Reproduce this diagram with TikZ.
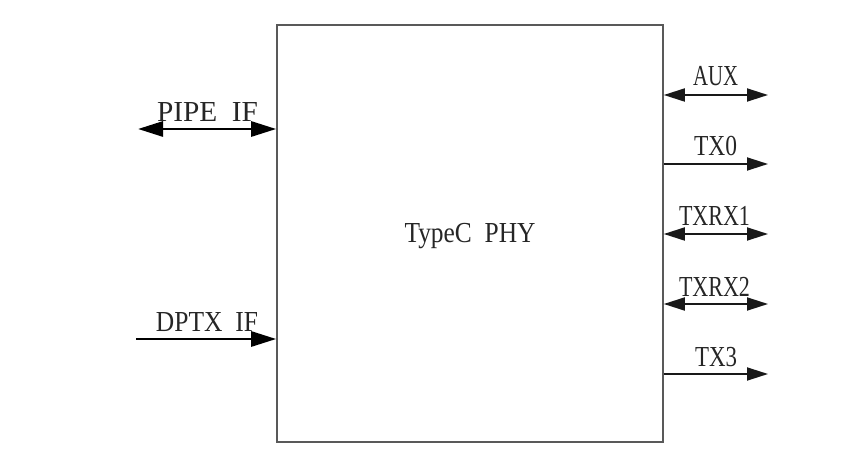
\documentclass[tikz,border=0pt]{standalone}
\usepackage{fontspec}
\setmainfont{Liberation Serif}
\usetikzlibrary{arrows.meta}
\newcommand{\fitw}[2]{\resizebox{#1pt}{\height}{#2}}
\begin{document}
\begin{tikzpicture}[x=1pt,y=-1pt,
  lbl/.style={font=\fontsize{29}{29}\selectfont, inner sep=0pt, anchor=base, text=black!85},
  phybox/.style={draw=black!65, line width=1.6pt},
  bigarr/.style={line width=2.8pt, black, -{Triangle[length=25pt,width=15pt]}},
  bigdbl/.style={line width=2.8pt, black, {Triangle[length=25pt,width=15pt]}-{Triangle[length=25pt,width=15pt]}},
  smarr/.style={line width=1.8pt, black!90, -{Triangle[length=21pt,width=13pt]}},
  smdbl/.style={line width=1.8pt, black!90, {Triangle[length=21pt,width=13pt]}-{Triangle[length=21pt,width=13pt]}}]
\useasboundingbox[fill=white] (0,0) rectangle (846,462);
% main block
\node[phybox, minimum width=386pt, minimum height=417pt, inner sep=0pt] (phy) at (470,233.5) {};
\node[lbl] (phylbl) at (470,243) {\fitw{131}{TypeC\ \ PHY}};
% left side
\coordinate (pipeL) at (138,129);
\coordinate (dptxL) at (136,339);
\draw[bigdbl] (pipeL) -- (phy.west |- pipeL);
\draw[bigarr] (dptxL) -- (phy.west |- dptxL);
\node[lbl] (pipelbl) at (207.5,122) {\fitw{101}{PIPE\ \ IF}};
\node[lbl] (dptxlbl) at (207,332) {\fitw{102}{DPTX\ \ IF}};
% right side
\coordinate (auxR) at (768,95);
\coordinate (tx0R) at (768,164);
\coordinate (txrx1R) at (768,234);
\coordinate (txrx2R) at (768,304);
\coordinate (tx3R) at (768,374);
\draw[smdbl] (phy.east |- auxR) -- (auxR);
\draw[smarr] (phy.east |- tx0R) -- (tx0R);
\draw[smdbl] (phy.east |- txrx1R) -- (txrx1R);
\draw[smdbl] (phy.east |- txrx2R) -- (txrx2R);
\draw[smarr] (phy.east |- tx3R) -- (tx3R);
\node[lbl] (auxlbl) at (715.5,86) {\fitw{45}{AUX}};
\node[lbl] (tx0lbl) at (715.5,156) {\fitw{43}{TX0}};
\node[lbl] (txrx1lbl) at (714.5,226) {\fitw{71}{TXRX1}};
\node[lbl] (txrx2lbl) at (714.5,297) {\fitw{71}{TXRX2}};
\node[lbl] (tx3lbl) at (716,366) {\fitw{42}{TX3}};
\end{tikzpicture}
\end{document}
